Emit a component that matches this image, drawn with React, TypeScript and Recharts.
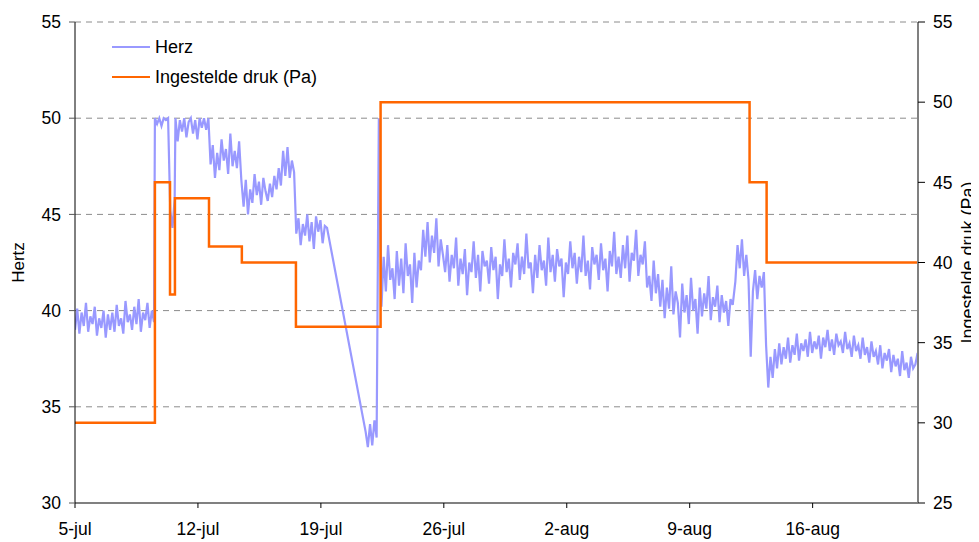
import { LineChart, Line, XAxis, YAxis, CartesianGrid, Legend } from 'recharts';

// days since 5-jul
const xTicks = [0, 7, 14, 21, 28, 35, 42];
const xTickLabels = ['5-jul', '12-jul', '19-jul', '26-jul', '2-aug', '9-aug', '16-aug'];
const hzTicks = [30, 35, 40, 45, 50, 55];
const paTicks = [25, 30, 35, 40, 45, 50, 55];

// Ingestelde druk (Pa), stepwise set points
const drukDays = [0, 4.55, 5.41, 5.69, 7.63, 9.5, 12.58, 17.4, 38.41, 39.38, 48];
const drukPa = [30, 45, 38, 44, 41, 40, 36, 50, 45, 40, 40];

// Herz, one value every 3 hours
const HERZ_STEP = 0.125;
const herzA = [39.0, 40.1, 38.8, 39.9, 39.2, 40.4, 38.9, 39.7, 39.3, 40.2, 38.7, 39.6, 39.1, 40.0, 38.6, 39.8, 39.0, 39.9, 38.9, 40.3, 39.2, 39.6, 38.8, 40.5, 39.4, 39.8, 39.0, 40.2, 39.3, 40.6, 38.9, 39.9, 39.5, 40.4, 39.1, 40.0, 39.4];
const herzB = [50, 49.7, 50, 49.6, 50, 49.9, 50, 45.2, 44.3, 45.8];
const herzC = [50, 48.8, 49.9, 49.3, 50, 49.0, 49.8, 50, 49.2, 49.9, 48.9, 50, 49.5, 50, 49.4, 50];
const herzD = [47.6, 48.6, 46.9, 48.2, 47.3, 48.9, 47.8, 48.4, 47.1, 49.2, 47.5, 48.3, 47.4, 48.8, 46.8];
const herzE = [45.4, 46.8, 45.0, 46.3, 45.6, 47.1, 46.0, 46.7, 45.5, 46.9, 46.2, 45.7, 46.6, 45.9, 47.0, 46.3, 47.4, 46.5, 48.3, 47.0, 48.5, 46.9, 47.8, 47.2];
const herzF = [44.0, 44.8, 43.4, 44.5, 43.9, 45.0, 43.6, 44.6, 43.2, 44.9, 44.1, 44.7, 43.5, 44.4, 44.3];
const herzG = [33.7, 32.9, 34.1, 33.0, 34.3, 33.4, 50];
const herzH = [
  40.2, 42.8, 41.0, 43.4, 41.6, 42.2, 40.6, 43.1, 41.3, 42.7, 40.9, 43.5, 41.8, 42.4, 40.4, 43.0, 41.2, 42.6,
  42.1, 44.2, 42.8, 44.6, 42.5, 43.9, 43.0, 44.8, 42.3, 43.7, 42.9,
  42.0, 43.4, 41.5, 42.9, 42.2, 43.8, 41.3, 42.7, 41.9, 43.2,
  40.8, 42.5, 42.0, 43.6, 41.7, 42.9, 41.0, 43.1, 42.3, 42.6,
  41.4, 43.3, 42.1, 42.8, 40.6, 42.4, 41.8, 43.7, 42.0, 42.7,
  41.2, 43.0, 42.4, 43.5, 41.6, 42.8, 41.9, 44.0, 42.2, 42.5,
  40.9, 42.9, 41.7, 43.4, 42.1, 42.6, 41.3, 43.8, 42.0, 42.9,
  41.5, 43.2, 42.3, 42.7, 40.7, 42.5, 41.9, 43.6, 42.2, 43.0,
  41.4, 42.8, 42.0, 43.9, 41.8, 42.6, 41.1, 43.3, 42.4, 42.9,
  41.6, 43.5, 42.1, 42.7, 41.0, 43.1, 42.3, 44.1, 41.9, 42.8,
  41.7, 43.4, 42.2, 43.9, 41.5, 43.0, 42.6, 44.2, 41.8, 42.9,
  42.4, 43.6, 41.2,
];
const herzI = [
  41.8, 40.5, 42.6, 40.9, 41.9, 40.2, 41.6, 39.6, 41.2, 40.1,
  42.3, 39.8, 41.0, 40.4, 38.6, 41.4, 39.9, 40.8, 39.3, 41.7,
  40.0, 40.6, 38.8, 41.2, 39.7, 40.9, 40.1, 41.8, 39.5, 40.7,
  40.2, 41.3, 39.4, 40.8, 39.9, 40.5, 39.2, 40.6, 40.3,
];
const herzJ = [41.5, 43.4, 42.2, 43.7, 41.8, 42.9, 41.6, 37.6, 41.0, 42.1, 40.6, 41.8, 41.2, 42.0];
const herzK = [
  38.2, 36.0, 37.6, 36.5, 38.0, 37.0, 38.3, 37.2, 38.1, 37.5,
  38.6, 37.3, 38.2, 37.7, 38.8, 37.4, 38.3, 37.9, 38.5, 37.6,
  38.9, 37.8, 38.4, 38.0, 38.7, 37.5, 38.6, 38.1, 39.0, 37.9,
  38.5, 37.7, 38.8, 38.2, 38.4, 37.8, 38.9, 38.0, 38.3, 37.6,
  38.7, 37.9, 38.2, 37.5, 38.6, 37.7, 38.1, 37.3, 38.4, 37.6,
  37.9, 37.2, 38.2, 37.0, 37.8, 37.4, 38.0, 36.8, 37.7, 37.1,
  37.5, 36.6, 37.9, 36.9, 37.3, 36.5, 37.6, 37.0, 37.2, 37.8,
];
const herzStarts = [0, 4.55, 5.72, 7.72, 9.6, 12.6, 16.55, 17.45, 32.7, 37.6, 39.35];
const herzSegments = [herzA, herzB, herzC, herzD, herzE, herzF, herzG, herzH, herzI, herzJ, herzK];

const herzData = herzSegments.flatMap((vals, s) =>
  vals.map((hz, i) => ({ day: herzStarts[s] + i * HERZ_STEP, hz })),
);
const drukData = drukDays.map((day, i) => ({ day, pa: drukPa[i] }));

const BLUE = '#9999FF';
const ORANGE = '#FF6600';
const FONT = '"Liberation Sans", Arial, sans-serif';

function ChartLegend() {
  const rows = [
    { name: 'Herz', color: BLUE, w: 1.5 },
    { name: 'Ingestelde druk (Pa)', color: ORANGE, w: 2.5 },
  ];
  return (
    <div style={{ fontFamily: FONT, fontSize: 18, color: '#000' }}>
      {rows.map((r) => (
        <div key={r.name} style={{ display: 'flex', alignItems: 'center', height: 30 }}>
          <div style={{ width: 38, height: r.w, background: r.color, marginRight: 5 }} />
          <span>{r.name}</span>
        </div>
      ))}
    </div>
  );
}

// rotated axis title, centred on the axis box near its outer edge
function AxisTitle({ viewBox, text, side, size }: { viewBox?: any; text: string; side: 'left' | 'right'; size: number }) {
  if (!viewBox) return null;
  const x = side === 'left' ? viewBox.x + 10 : viewBox.x + viewBox.width - 11;
  const y = viewBox.y + viewBox.height / 2;
  return (
    <text
      x={x}
      y={y}
      transform={`rotate(-90, ${x}, ${y})`}
      textAnchor="middle"
      dominantBaseline="central"
      fill="#000"
      fontSize={size}
      fontFamily={FONT}
    >
      {text}
    </text>
  );
}

export default function App() {
  const tickStyle = { fill: '#000', fontSize: 17.5, fontFamily: FONT };
  return (
    <div style={{ fontFamily: FONT }}>
      <LineChart width={971} height={534} margin={{ top: 14, right: 0, bottom: 0, left: 0 }}>
        <CartesianGrid yAxisId="hz" vertical={false} stroke="#8c8c8c" strokeDasharray="6 5" />
        <XAxis
          type="number"
          dataKey="day"
          domain={[0, 48]}
          ticks={xTicks}
          tickFormatter={(v: number) => xTickLabels[xTicks.indexOf(v)] ?? ''}
          height={39}
          tick={tickStyle}
          tickSize={5}
          tickMargin={15}
          axisLine={{ stroke: '#808080', strokeWidth: 2 }}
          tickLine={{ stroke: '#000' }}
          allowDataOverflow
        />
        <YAxis
          yAxisId="hz"
          domain={[30, 55]}
          ticks={hzTicks}
          width={67}
          tick={tickStyle}
          tickSize={6}
          tickMargin={8}
          axisLine={{ stroke: '#000' }}
          tickLine={{ stroke: '#555' }}
          label={{ content: (p: any) => <AxisTitle viewBox={p.viewBox} text="Hertz" side="left" size={17} /> }}
        />
        <YAxis
          yAxisId="pa"
          orientation="right"
          domain={[25, 55]}
          ticks={paTicks}
          width={61}
          tick={tickStyle}
          tickSize={7}
          tickMargin={8}
          axisLine={{ stroke: '#808080', strokeWidth: 2 }}
          tickLine={{ stroke: '#000' }}
          label={{ content: (p: any) => <AxisTitle viewBox={p.viewBox} text="Ingestelde druk (Pa)" side="right" size={18} /> }}
        />
        <Legend
          layout="horizontal"
          verticalAlign="middle"
          align="center"
          content={() => <ChartLegend />}
          wrapperStyle={{ left: 104, top: 24, width: 260 }}
        />
        <Line
          yAxisId="hz"
          data={herzData}
          dataKey="hz"
          name="Herz"
          type="linear"
          stroke={BLUE}
          strokeWidth={2.2}
          dot={false}
          isAnimationActive={false}
        />
        <Line
          yAxisId="pa"
          data={drukData}
          dataKey="pa"
          name="Ingestelde druk (Pa)"
          type="stepAfter"
          stroke={ORANGE}
          strokeWidth={2.5}
          dot={false}
          isAnimationActive={false}
        />
      </LineChart>
    </div>
  );
}
